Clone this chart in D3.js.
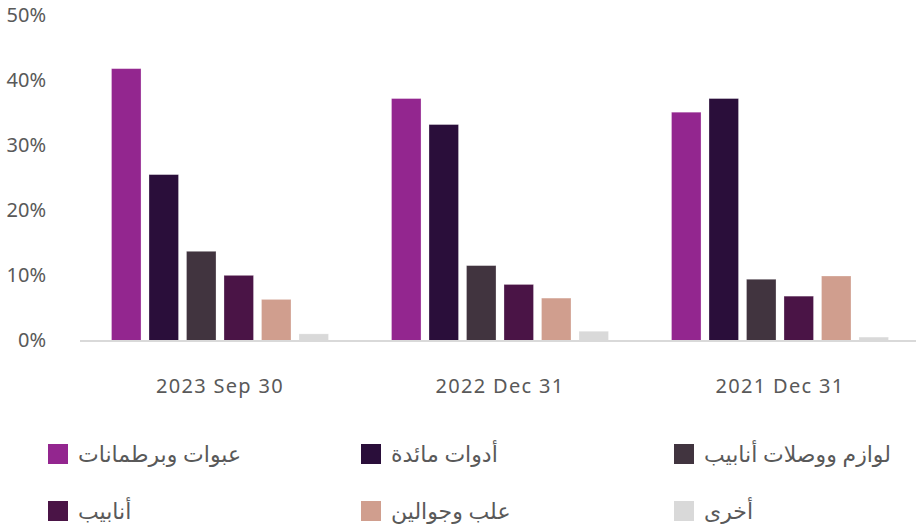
<!DOCTYPE html>
<html><head><meta charset="utf-8">
<script src="https://cdn.jsdelivr.net/npm/d3@7"></script>
<style>body{margin:0;background:#fff}svg{display:block}</style>
</head><body>
<svg id="c" width="916" height="527"></svg>
<script>
const categories = ["2023 Sep 30", "2022 Dec 31", "2021 Dec 31"];
const seriesNames = ["عبوات وبرطمانات", "أدوات مائدة", "لوازم ووصلات أنابيب", "أنابيب", "علب وجوالين", "أخرى"];
const seriesColors = ["#93268F", "#2A0E3A", "#41343F", "#4A1446", "#D09E8E", "#D9D9D9"];
const values = [
  [41.9, 25.6, 13.8, 10.1, 6.4, 1.1],
  [37.3, 33.3, 11.6, 8.7, 6.6, 1.5],
  [35.2, 37.3, 9.5, 6.9, 10.0, 0.6]
];
const yTicks = [0, 10, 20, 30, 40, 50];

const svg = d3.select("#c");
const font = "'Noto Sans', 'DejaVu Sans', sans-serif";
const x0 = d3.scaleBand().domain(categories).range([80, 920]).padding(0);
const x1 = d3.scaleBand().domain(d3.range(seriesNames.length))
  .range([31.5, x0.bandwidth() - 31.5]).paddingInner(0.213).paddingOuter(0);
const y = d3.scaleLinear().domain([0, 50]).range([341, 16]);

// y labels
svg.append("g").selectAll("text").data(yTicks).join("text")
  .attr("x", 46).attr("y", d => y(d) - 1).attr("dy", "0.35em")
  .attr("text-anchor", "end").attr("fill", "#595959")
  .style("font-family", font).style("font-size", "20px")
  .text(d => d + "%");

// bars
const g = svg.append("g").selectAll("g").data(categories).join("g")
  .attr("transform", d => `translate(${x0(d)},0)`);
g.selectAll("rect").data((d, i) => values[i].map((v, j) => ({v, j}))).join("rect")
  .attr("x", d => x1(d.j)).attr("width", x1.bandwidth())
  .attr("y", d => y(d.v)).attr("height", d => y(0) - y(d.v))
  .attr("fill", d => seriesColors[d.j])
  .attr("stroke", "#ffffff").attr("stroke-opacity", 0.35).attr("stroke-width", 0.8);

// baseline
svg.append("line").attr("x1", 80).attr("x2", 916).attr("y1", y(0)).attr("y2", y(0))
  .attr("stroke", "#D9D9D9").attr("stroke-width", 2);

// x labels
svg.append("g").selectAll("text").data(categories).join("text")
  .attr("x", d => x0(d) + x0.bandwidth() / 2).attr("y", 386).attr("dy", "0.35em")
  .attr("text-anchor", "middle").attr("fill", "#595959")
  .style("font-family", font).style("font-size", "20px").style("letter-spacing", "1.3px")
  .text(d => d);

// legend
const legX = [48, 361, 674];
const legY = [454, 511];
const leg = svg.append("g").selectAll("g").data(seriesNames).join("g")
  .attr("transform", (d, i) => `translate(${legX[i % 3]},${legY[Math.floor(i / 3)]})`);
leg.append("rect").attr("x", 0).attr("y", -10).attr("width", 20).attr("height", 20)
  .attr("fill", (d, i) => seriesColors[i]);
leg.append("text").attr("x", 30).attr("y", 0).attr("dy", "0.35em")
  .attr("fill", "#595959").style("font-family", font).style("font-size", "22px")
  .text(d => d);
</script>
</body></html>
